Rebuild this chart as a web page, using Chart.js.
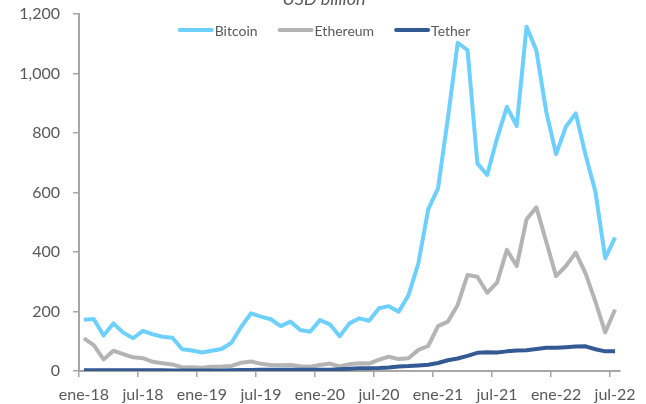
<!DOCTYPE html>
<html>
<head>
<meta charset="utf-8">
<script src="https://cdn.jsdelivr.net/npm/chart.js@4.4.0/dist/chart.umd.min.js"></script>
<style>
html,body{margin:0;padding:0;background:#ffffff;}
canvas{display:block;}
</style>
</head>
<body>
<canvas id="c" width="646" height="404"></canvas>
<script>
// ---- data ----
const categories = [
  'ene-18','feb-18','mar-18','abr-18','may-18','jun-18','jul-18','ago-18','sep-18','oct-18','nov-18','dic-18',
  'ene-19','feb-19','mar-19','abr-19','may-19','jun-19','jul-19','ago-19','sep-19','oct-19','nov-19','dic-19',
  'ene-20','feb-20','mar-20','abr-20','may-20','jun-20','jul-20','ago-20','sep-20','oct-20','nov-20','dic-20',
  'ene-21','feb-21','mar-21','abr-21','may-21','jun-21','jul-21','ago-21','sep-21','oct-21','nov-21','dic-21',
  'ene-22','feb-22','mar-22','abr-22','may-22','jun-22','jul-22'
];
const bitcoin = [
  172, 175, 119, 160, 129, 110, 135, 123, 115, 112, 73, 69,
  62, 68, 74, 95, 149, 194, 183, 174, 151, 166, 138, 132,
  171, 157, 117, 160, 177, 169, 211, 218, 199, 255, 362, 543,
  614, 849, 1103, 1079, 698, 659, 782, 888, 824, 1157, 1077, 872,
  729, 821, 866, 726, 603, 379, 449
];
const ethereum = [
  110, 87, 39, 68, 57, 46, 43, 31, 26, 22, 12, 13,
  11, 14, 15, 17, 28, 32, 24, 20, 19, 20, 16, 14,
  20, 25, 15, 23, 26, 25, 38, 48, 40, 43, 71, 84,
  151, 166, 222, 323, 317, 263, 297, 407, 353, 510, 550, 435,
  319, 353, 398, 328, 233, 130, 207
];
const tether = [
  2.2, 2.2, 2.3, 2.3, 2.5, 2.7, 2.7, 2.8, 2.8, 2.1, 1.8, 2.0,
  2.0, 2.0, 2.0, 2.7, 3.0, 3.5, 4.0, 4.0, 4.1, 4.1, 4.1, 4.1,
  4.6, 4.6, 6.3, 7.6, 9.0, 9.2, 10, 12, 15.5, 16.7, 18.7, 21,
  27, 36, 42, 51, 61, 63, 62, 66, 69, 70, 74, 78,
  78, 80, 82, 83, 73, 66, 66
];
const seriesNames = ['Bitcoin', 'Ethereum', 'Tether'];
const yTickValues = [0, 200, 400, 600, 800, 1000, 1200];
const titleText = 'USD billion';
const LABEL_EVERY = 6;

// ---- styles ----
const axisColor = '#A6A6A6';
const textColor = '#595959';
const colors = ['#6DD0FF', '#B4B4B4', '#335A92'];
const FONT = 'Lato';

const overlayPlugin = {
  id: 'overlay',
  afterDraw(chart) {
    const ctx = chart.ctx;
    ctx.save();
    // title (clipped at top as in the reference)
    ctx.font = 'italic 18px ' + FONT;
    ctx.fillStyle = textColor;
    ctx.textAlign = 'center';
    ctx.textBaseline = 'alphabetic';
    ctx.fillText(titleText, 324, 5);

    // legend
    ctx.font = '14px ' + FONT;
    const lineLen = 36, gap = 1, spacing = 20;
    const ds = chart.data.datasets;
    const widths = ds.map(d => ctx.measureText(d.label).width);
    let total = 0;
    widths.forEach((w, i) => { total += lineLen + gap + w + (i < widths.length - 1 ? spacing : 0); });
    let x = 324 - total / 2;
    const y = 30;
    ds.forEach((d, i) => {
      ctx.strokeStyle = d.borderColor;
      ctx.lineWidth = 4;
      ctx.lineCap = 'round';
      ctx.beginPath();
      ctx.moveTo(x + 2, y);
      ctx.lineTo(x + lineLen - 2, y);
      ctx.stroke();
      ctx.fillStyle = textColor;
      ctx.textAlign = 'left';
      ctx.textBaseline = 'middle';
      ctx.fillText(d.label, x + lineLen + gap, y + 1);
      x += lineLen + gap + widths[i] + spacing;
    });
    ctx.restore();
  }
};

const seriesData = [bitcoin, ethereum, tether];

new Chart(document.getElementById('c'), {
  type: 'line',
  data: {
    labels: categories,
    datasets: seriesNames.map((name, i) => ({
      label: name,
      data: seriesData[i],
      borderColor: colors[i],
      backgroundColor: colors[i],
      borderWidth: 4,
      pointRadius: 0,
      pointHoverRadius: 0,
      tension: 0,
      borderJoinStyle: 'round',
      borderCapStyle: 'butt',
      fill: false,
      order: 3 - i
    }))
  },
  options: {
    responsive: false,
    animation: false,
    events: [],
    layout: { padding: { top: 14, right: 26, bottom: 0, left: 0 } },
    plugins: {
      legend: { display: false },
      title: { display: false },
      tooltip: { enabled: false }
    },
    scales: {
      x: {
        type: 'category',
        offset: true,
        afterFit(scale) { scale.height = 33; },
        grid: {
          offset: true,
          drawOnChartArea: false,
          drawTicks: true,
          tickLength: 6,
          lineWidth: 1.5,
          color: (c) => (c.index % LABEL_EVERY === 0 && c.index < categories.length) ? axisColor : 'rgba(0,0,0,0)'
        },
        border: { display: true, color: axisColor, width: 2 },
        ticks: {
          autoSkip: false,
          maxRotation: 0,
          minRotation: 0,
          padding: 8,
          color: textColor,
          font: { family: FONT, size: 16 },
          callback: (v, i) => (i % LABEL_EVERY === 0 ? categories[i] : '')
        }
      },
      y: {
        min: 0,
        max: 1200,
        afterBuildTicks(scale) { scale.ticks = yTickValues.map(v => ({ value: v })); },
        afterFit(scale) { scale.width = 79; scale.paddingTop = 0; scale.paddingBottom = 0; },
        grid: {
          drawOnChartArea: false,
          drawTicks: true,
          tickLength: 6,
          lineWidth: 1.5,
          color: axisColor
        },
        border: { display: true, color: axisColor, width: 2 },
        ticks: {
          padding: 13,
          color: textColor,
          font: { family: FONT, size: 16 },
          callback: (v) => Number(v).toLocaleString('en-US')
        }
      }
    }
  },
  plugins: [overlayPlugin]
});
</script>
</body>
</html>
